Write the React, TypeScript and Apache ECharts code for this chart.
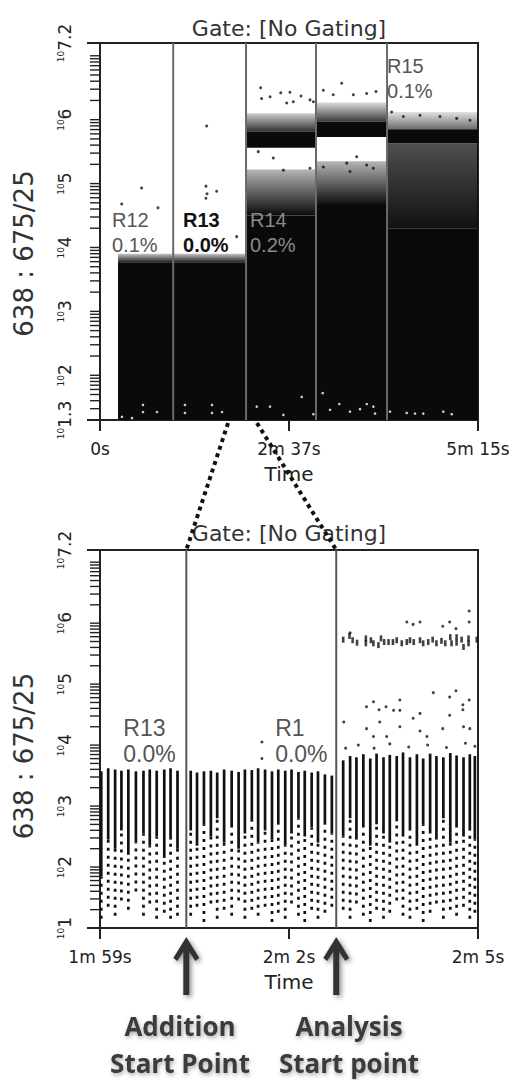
import React, { useEffect, useRef } from 'react';
import * as echarts from 'echarts';

// ---------------- axes ----------------
const topTimeTicks = [0, 157.5, 315];
const topTimeLabels = ['0s', '2m 37s', '5m 15s'];
const bottomTimeTicks = [119, 122, 125];
const bottomTimeLabels = ['1m 59s', '2m 2s', '2m 5s'];
const topLogRange = [1.3, 7.2];
const bottomLogRange = [1, 7.2];
const decades = [1, 2, 3, 4, 5, 6, 7];
const decadeFactors = [1, 2, 3, 4, 5, 6, 7, 8, 9];

// ---------------- top plot (0s – 5m 15s), values in log10 units ----------------
const topGates = [61, 121.7, 180, 239.2];
// [tStart, tEnd, low, high]
const topCoreBlocks = [
  [15, 121.7, 1.3, 3.77],
  [121.7, 180, 1.3, 4.5],
  [121.7, 180, 5.56, 5.81],
  [180, 239.2, 1.3, 4.65],
  [180, 239.2, 5.73, 5.97],
  [239.2, 315, 1.3, 4.3],
  [239.2, 315, 5.63, 5.85],
];
// [tStart, tEnd, low, high, densityLow, densityHigh]
const topFringeBlocks = [
  [15, 121.7, 3.77, 3.9, 0.9, 0.25],
  [121.7, 180, 4.5, 5.22, 1.0, 0.3],
  [121.7, 180, 5.81, 6.1, 0.85, 0.2],
  [180, 239.2, 4.65, 5.35, 1.0, 0.3],
  [180, 239.2, 5.97, 6.27, 0.8, 0.15],
  [239.2, 315, 4.3, 5.63, 0.97, 0.72],
  [239.2, 315, 5.85, 6.12, 0.6, 0.12],
];
const topOutliers = [
  [34.7, 4.93], [18.1, 4.68], [48.3, 4.62], [88.9, 5.9], [88.3, 4.96], [97.2, 4.88],
  [89.2, 4.84], [88.3, 4.77], [113.9, 4.17],
  [133.9, 6.5], [150.6, 6.42], [158.3, 6.43], [167.5, 6.37], [175, 6.31], [134.7, 6.33],
  [141.7, 6.36], [155.6, 6.26], [161.1, 6.28], [177.8, 6.28],
  [201.4, 6.57], [186.1, 6.46], [194.4, 6.39], [211.1, 6.39], [222.2, 6.41], [230, 6.44],
  [243, 6.12], [252.8, 6.05], [266.7, 6.07], [283.3, 6.05], [297.2, 6.02], [308.3, 5.99],
  [131.9, 5.5], [144.4, 5.4], [152.8, 5.21], [175, 5.24],
  [186.1, 5.26], [205.6, 5.32], [213.9, 5.42], [222.2, 5.29], [227.8, 5.24], [208.3, 5.19],
];
const topVoids = [
  [35.8, 1.535], [35.8, 1.425], [47.5, 1.425], [70.8, 1.535], [70.8, 1.41], [93.3, 1.535],
  [93.3, 1.41], [101.7, 1.425], [26.7, 1.33], [18.3, 1.35], [168.1, 1.66], [185.6, 1.72],
  [199.4, 1.55], [177.8, 1.39], [191.7, 1.46], [208.3, 1.43], [216.7, 1.47], [222.3, 1.55],
  [227.8, 1.51], [229.2, 1.4], [241.7, 1.43], [255.6, 1.41], [262.5, 1.4], [269.4, 1.4],
  [286.1, 1.43], [293.1, 1.39], [130.6, 1.51], [141.7, 1.51], [152.8, 1.38],
];
const topRegionNames = ['R12', 'R13', 'R14', 'R15'];
const topRegionPct = ['0.1%', '0.0%', '0.2%', '0.1%'];
const topRegionAnchors = [[10, 4.23], [69.2, 4.23], [125, 4.23], [239.2, 6.65]];
const topRegionColors = ['#555', '#111', '#8a8a8a', '#555'];
const topRegionWeights = ['normal', 'bold', 'normal', 'normal'];

// ---------------- bottom plot (1m 59s – 2m 5s) ----------------
const bottomGates = [120.37, 122.75];
const zoomWindow = [106.7, 130.8];
// [t, lowest dot, solid low, top]
const bottomColumns = [
  [119.02, 1.15, 1.85, 3.57], [119.13, 1.35, 2.45, 3.62], [119.24, 1.2, 2.3, 3.6],
  [119.34, 1.45, 2.6, 3.58], [119.45, 1.3, 2.2, 3.6], [119.57, 1.6, 2.4, 3.57],
  [119.69, 1.2, 2.55, 3.58], [119.79, 1.4, 2.35, 3.6], [119.9, 1.15, 2.5, 3.58],
  [120.02, 1.25, 2.15, 3.6], [120.12, 1.15, 2.45, 3.62], [120.23, 1.2, 2.3, 3.58],
  [120.44, 1.2, 2.6, 3.58], [120.54, 1.35, 2.35, 3.55], [120.65, 1.1, 2.7, 3.57],
  [120.76, 1.4, 2.5, 3.58], [120.86, 1.15, 2.8, 3.55], [120.97, 1.3, 2.4, 3.6],
  [121.09, 1.2, 2.65, 3.58], [121.2, 1.45, 2.3, 3.56], [121.3, 1.15, 2.55, 3.6],
  [121.41, 1.3, 2.75, 3.59], [121.51, 1.2, 2.4, 3.62], [121.62, 1.35, 2.6, 3.6],
  [121.73, 1.1, 2.45, 3.57], [121.83, 1.25, 2.7, 3.6], [121.94, 1.15, 2.35, 3.58],
  [122.04, 1.4, 2.55, 3.6], [122.15, 1.2, 2.8, 3.56], [122.25, 1.1, 2.5, 3.58],
  [122.36, 1.3, 2.65, 3.55], [122.46, 1.15, 2.4, 3.57], [122.57, 1.25, 2.7, 3.52],
  [122.68, 1.35, 2.55, 3.5],
  [122.86, 1.3, 2.5, 3.75], [122.97, 1.15, 2.8, 3.82], [123.07, 1.4, 2.45, 3.8],
  [123.18, 1.2, 2.65, 3.85], [123.29, 1.1, 2.35, 3.78], [123.39, 1.3, 2.7, 3.86],
  [123.5, 1.15, 2.55, 3.8], [123.6, 1.25, 2.4, 3.84], [123.71, 1.45, 2.75, 3.82],
  [123.81, 1.2, 2.5, 3.88], [123.92, 1.15, 2.6, 3.8], [124.03, 1.3, 2.35, 3.85],
  [124.13, 1.1, 2.7, 3.78], [124.24, 1.25, 2.55, 3.86], [124.34, 1.4, 2.45, 3.82],
  [124.45, 1.15, 2.8, 3.8], [124.56, 1.3, 2.4, 3.87], [124.66, 1.2, 2.65, 3.83],
  [124.77, 1.35, 2.5, 3.8], [124.87, 1.15, 2.6, 3.85], [124.95, 1.25, 2.45, 3.82],
];
const bottomBand = [
  [122.86, 5.73], [122.96, 5.79], [123.01, 5.72], [123.08, 5.68], [123.22, 5.75],
  [123.22, 5.67], [123.3, 5.72], [123.34, 5.67], [123.42, 5.64], [123.46, 5.75],
  [123.51, 5.69], [123.58, 5.69], [123.65, 5.69], [123.71, 5.72], [123.79, 5.67],
  [123.87, 5.69], [123.92, 5.72], [123.98, 5.69], [124.08, 5.72], [124.13, 5.67],
  [124.21, 5.69], [124.28, 5.73], [124.34, 5.67], [124.42, 5.71], [124.48, 5.67],
  [124.56, 5.77], [124.58, 5.67], [124.66, 5.77], [124.66, 5.68], [124.74, 5.73],
  [124.77, 5.61], [124.85, 5.75], [124.85, 5.67], [124.98, 5.73],
];
const bottomScatter = [
  [123.87, 6.02], [123.97, 5.98], [124.08, 6.02], [124.44, 5.95], [124.55, 6.02],
  [124.65, 5.91], [124.86, 6.2], [124.86, 6.02], [122.97, 5.84],
  [122.87, 4.38], [123.23, 4.63], [123.34, 4.71], [123.43, 4.58], [123.54, 4.63],
  [123.66, 4.57], [123.76, 4.74], [123.76, 4.57], [123.23, 4.27], [123.44, 4.38],
  [123.97, 4.44], [124.08, 4.52], [124.29, 4.86], [124.55, 4.79], [124.65, 4.89],
  [124.55, 4.49], [124.76, 4.66], [124.76, 4.58], [124.86, 4.74], [124.44, 4.27],
  [124.77, 4.3], [124.87, 4.27], [123.76, 4.3], [123.34, 4.14], [123.55, 4.14],
  [124.08, 4.23], [124.19, 4.14],
  [122.9, 3.95], [123.1, 4.0], [123.35, 3.95], [123.6, 4.02], [123.9, 3.97],
  [124.2, 4.0], [124.5, 3.96], [124.8, 4.03], [124.95, 3.98],
  [121.57, 4.05], [121.57, 3.78],
];
const bottomRegionNames = ['R13', 'R1'];
const bottomRegionPct = ['0.0%', '0.0%'];
const bottomRegionAnchors = [[119.37, 4.06], [121.78, 4.06]];

const yAxisTitle = '638 : 675/25';
const gateTitle = 'Gate: [No Gating]';
const annotations = [
  ['Addition', 'Start Point'],
  ['Analysis', 'Start point'],
];

// ---------------- helpers ----------------
const FONT = '"DejaVu Sans", sans-serif';
const ARIAL = '"Liberation Sans", Arial, sans-serif';

const logTicks = (range: number[]) => {
  const out: number[] = [];
  decades.forEach((d) => {
    decadeFactors.forEach((k) => {
      const v = Math.log10(k) + d;
      if (v >= range[0] - 1e-9 && v <= range[1] + 1e-9) out.push(v);
    });
  });
  out.push(range[0], range[1]);
  return out;
};

const expLabel = (v: number) => {
  if (Math.abs(v - 7) < 1e-9) return '';
  const s = Math.abs(v - Math.round(v)) < 1e-9 ? String(Math.round(v)) : v.toFixed(1);
  return `{b|10}{e|${s}}`;
};

const timeLabel = (ticks: number[], labels: string[]) => (v: number) => {
  const i = ticks.findIndex((t) => Math.abs(t - v) < 1e-6);
  return i >= 0 ? labels[i] : '';
};

const timeAxis = (gridIndex: number, ticks: number[], labels: string[]) => ({
  type: 'value',
  gridIndex,
  min: ticks[0],
  max: ticks[2],
  interval: ticks[1] - ticks[0],
  name: 'Time',
  nameLocation: 'middle',
  nameGap: 44,
  nameTextStyle: { fontFamily: FONT, fontSize: 20, color: '#222' },
  axisLine: { show: true, onZero: false, lineStyle: { color: '#222', width: 2 } },
  axisTick: { show: true, inside: false, length: 11, lineStyle: { color: '#222', width: 2 } },
  axisLabel: {
    margin: 20,
    fontFamily: FONT,
    fontSize: 17,
    color: '#222',
    formatter: timeLabel(ticks, labels),
    showMinLabel: true,
    showMaxLabel: true,
  },
  splitLine: { show: false },
});

const logAxis = (gridIndex: number, range: number[]) => ({
  type: 'value',
  gridIndex,
  min: range[0],
  max: range[1],
  axisLine: { show: true, onZero: false, lineStyle: { color: '#222', width: 2 } },
  axisTick: { show: false },
  splitLine: { show: false },
  axisLabel: {
    rotate: 90,
    margin: 27,
    color: '#222',
    fontFamily: FONT,
    formatter: expLabel,
    showMinLabel: true,
    showMaxLabel: true,
    rich: {
      b: { fontSize: 9, fontFamily: FONT, color: '#222', verticalAlign: 'top' },
      e: { fontSize: 17, fontFamily: FONT, color: '#222' },
    },
  },
});

const blockSeries = {
  type: 'custom',
  xAxisIndex: 0,
  yAxisIndex: 0,
  clip: false,
  z: 2,
  silent: true,
  data: topCoreBlocks,
  renderItem: (_p: any, api: any) => {
    const a = api.coord([api.value(0), api.value(3)]);
    const b = api.coord([api.value(1), api.value(2)]);
    return {
      type: 'rect',
      shape: { x: a[0], y: a[1], width: b[0] - a[0], height: b[1] - a[1] },
      style: { fill: '#0a0a0a' },
    };
  },
};

const fringeSeries = {
  type: 'custom',
  xAxisIndex: 0,
  yAxisIndex: 0,
  clip: false,
  z: 2,
  silent: true,
  data: topFringeBlocks,
  renderItem: (_p: any, api: any) => {
    const a = api.coord([api.value(0), api.value(3)]);
    const b = api.coord([api.value(1), api.value(2)]);
    return {
      type: 'rect',
      shape: { x: a[0], y: a[1], width: b[0] - a[0], height: b[1] - a[1] },
      style: {
        fill: new echarts.graphic.LinearGradient(0, 1, 0, 0, [
          { offset: 0, color: `rgba(10,10,10,${api.value(4)})` },
          { offset: 1, color: `rgba(10,10,10,${api.value(5)})` },
        ]),
      },
    };
  },
};

const tickSeries = (idx: number, xMin: number, range: number[]) => ({
  type: 'custom',
  xAxisIndex: idx,
  yAxisIndex: idx,
  clip: false,
  silent: true,
  z: 5,
  data: logTicks(range).map((v) => [xMin, v]),
  renderItem: (_p: any, api: any) => {
    const v = api.value(1);
    const p = api.coord([api.value(0), v]);
    const isEnd = Math.abs(v - range[0]) < 1e-9 || Math.abs(v - range[1]) < 1e-9;
    const len = isEnd ? 13 : 10;
    return {
      type: 'line',
      shape: { x1: p[0] - len, y1: p[1], x2: p[0], y2: p[1] },
      style: { stroke: '#222', lineWidth: isEnd ? 2 : 1.4 },
    };
  },
});

const gateSeries = (idx: number, gates: number[], range: number[], color: string) => ({
  type: 'custom',
  xAxisIndex: idx,
  yAxisIndex: idx,
  clip: false,
  silent: true,
  z: 6,
  data: gates.map((t) => [t, range[0], range[1]]),
  renderItem: (_p: any, api: any) => {
    const a = api.coord([api.value(0), api.value(2)]);
    const b = api.coord([api.value(0), api.value(1)]);
    return {
      type: 'line',
      shape: { x1: a[0], y1: a[1], x2: b[0], y2: b[1] },
      style: { stroke: color, lineWidth: 2 },
    };
  },
});

const labelSeries = (
  idx: number,
  anchors: number[][],
  names: string[],
  pcts: string[],
  colors: string[],
  weights: string[],
  size: number,
  lh: number
) => ({
  type: 'custom',
  xAxisIndex: idx,
  yAxisIndex: idx,
  clip: false,
  silent: true,
  z: 8,
  data: anchors.map((a, i) => [a[0], a[1], i]),
  renderItem: (_p: any, api: any) => {
    const i = api.value(2);
    const p = api.coord([api.value(0), api.value(1)]);
    return {
      type: 'text',
      x: p[0],
      y: p[1],
      style: {
        text: names[i] + '\n' + pcts[i],
        fill: colors[i],
        font: `${weights[i]} ${size}px ${ARIAL}`,
        lineHeight: lh,
        align: 'left',
        verticalAlign: 'middle',
        textAlign: 'left',
        textVerticalAlign: 'middle',
      },
    };
  },
});

const columnSeries = {
  type: 'custom',
  xAxisIndex: 1,
  yAxisIndex: 1,
  clip: false,
  silent: true,
  z: 3,
  data: bottomColumns,
  renderItem: (_p: any, api: any) => {
    const t = api.value(0);
    const a = api.coord([t, api.value(1)]);
    const b = api.coord([t, api.value(2)]);
    const c = api.coord([t, api.value(3)]);
    return {
      type: 'group',
      children: [
        {
          type: 'line',
          shape: { x1: b[0], y1: b[1], x2: c[0], y2: c[1] },
          style: { stroke: '#111', lineWidth: 2.7 },
        },
        {
          type: 'line',
          shape: { x1: a[0], y1: a[1], x2: b[0], y2: b[1] },
          style: { stroke: '#111', lineWidth: 2.7, lineDash: [3, 5] },
        },
      ],
    };
  },
};

function buildOption() {
  return {
    animation: false,
    backgroundColor: '#fff',
    grid: [
      { left: 100, top: 43, width: 378, height: 377, show: true, borderColor: '#222', borderWidth: 2, backgroundColor: '#fff', outerBoundsMode: 'none' },
      { left: 100, top: 550, width: 378, height: 378, show: true, borderColor: '#222', borderWidth: 2, backgroundColor: '#fff', outerBoundsMode: 'none' },
    ],
    xAxis: [timeAxis(0, topTimeTicks, topTimeLabels), timeAxis(1, bottomTimeTicks, bottomTimeLabels)],
    yAxis: [logAxis(0, topLogRange), logAxis(1, bottomLogRange)],
    series: [
      blockSeries,
      fringeSeries,
      {
        type: 'scatter',
        xAxisIndex: 0,
        yAxisIndex: 0,
        symbol: 'circle',
        symbolSize: 3,
        itemStyle: { color: '#111' },
        silent: true,
        z: 3,
        data: topOutliers,
      },
      {
        type: 'scatter',
        xAxisIndex: 0,
        yAxisIndex: 0,
        symbol: 'circle',
        symbolSize: 2.6,
        itemStyle: { color: '#fff' },
        silent: true,
        z: 4,
        data: topVoids,
      },
      gateSeries(0, topGates, topLogRange, '#6a6a6a'),
      labelSeries(0, topRegionAnchors, topRegionNames, topRegionPct, topRegionColors, topRegionWeights, 20, 25),
      tickSeries(0, topTimeTicks[0], topLogRange),
      columnSeries,
      {
        type: 'scatter',
        xAxisIndex: 1,
        yAxisIndex: 1,
        symbol: 'rect',
        symbolSize: [2.6, 6],
        itemStyle: { color: '#111' },
        silent: true,
        z: 3,
        data: bottomBand,
      },
      {
        type: 'scatter',
        xAxisIndex: 1,
        yAxisIndex: 1,
        symbol: 'circle',
        symbolSize: 3,
        itemStyle: { color: '#111' },
        silent: true,
        z: 3,
        data: bottomScatter,
      },
      gateSeries(1, bottomGates, bottomLogRange, '#555'),
      labelSeries(1, bottomRegionAnchors, bottomRegionNames, bottomRegionPct, ['#555', '#555'], ['normal', 'normal'], 23, 26),
      tickSeries(1, bottomTimeTicks[0], bottomLogRange),
    ],
  };
}

function buildGraphic(chart: any) {
  const topPx = (p: number[]) => chart.convertToPixel({ xAxisIndex: 0, yAxisIndex: 0 }, p);
  const botPx = (p: number[]) => chart.convertToPixel({ xAxisIndex: 1, yAxisIndex: 1 }, p);
  const els: any[] = [];

  // titles
  const tTop = topPx([topTimeTicks[1], topLogRange[1]]);
  const tBot = botPx([bottomTimeTicks[1], bottomLogRange[1]]);
  [[tTop, 15], [tBot, 17]].forEach(([p, off]: any) => {
    els.push({
      type: 'text',
      x: p[0],
      y: p[1] - off,
      z: 20,
      style: { text: gateTitle, fill: '#333', font: `22px ${FONT}`, textAlign: 'center', textVerticalAlign: 'middle' },
    });
  });

  // y axis names
  const mTop = topPx([topTimeTicks[0], (topLogRange[0] + topLogRange[1]) / 2]);
  const mBot = botPx([bottomTimeTicks[0], (bottomLogRange[0] + bottomLogRange[1]) / 2]);
  [[mTop, 22], [mBot, 17]].forEach(([p, off]: any) => {
    els.push({
      type: 'text',
      x: 24,
      y: p[1] + off,
      rotation: Math.PI / 2,
      z: 20,
      style: { text: yAxisTitle, fill: '#333', font: `26px ${FONT}`, textAlign: 'center', textVerticalAlign: 'middle' },
    });
  });

  // dotted connectors
  const a1 = topPx([zoomWindow[0], topLogRange[0]]);
  const a2 = topPx([zoomWindow[1], topLogRange[0]]);
  const b1 = botPx([bottomGates[0], bottomLogRange[1]]);
  const b2 = botPx([bottomGates[1], bottomLogRange[1]]);
  [[a1, b1], [a2, b2]].forEach(([s, e]: any) => {
    els.push({
      type: 'line',
      z: 30,
      shape: { x1: s[0], y1: s[1] + 3, x2: e[0], y2: e[1] },
      style: { stroke: '#111', lineWidth: 4, lineDash: [4, 4] },
    });
  });

  // arrows
  bottomGates.forEach((g) => {
    const p = botPx([g, bottomLogRange[0]]);
    const x = p[0];
    const y = p[1] + 9;
    els.push({
      type: 'polygon',
      z: 20,
      shape: {
        points: [
          [x, y], [x + 13, y + 21], [x + 9, y + 24], [x + 3, y + 15], [x + 3, y + 58],
          [x - 3, y + 58], [x - 3, y + 15], [x - 9, y + 24], [x - 13, y + 21],
        ],
      },
      style: { fill: '#333', shadowBlur: 5, shadowColor: 'rgba(0,0,0,0.45)', shadowOffsetX: 2, shadowOffsetY: 2 },
    });
  });

  // annotation text
  const centers = [180, 349];
  annotations.forEach((lines, i) => {
    lines.forEach((txt, j) => {
      els.push({
        type: 'text',
        x: centers[i],
        y: 1026 + j * 37,
        z: 20,
        style: {
          text: txt,
          fill: '#3a3a3a',
          font: `bold 26px "Open Sans", sans-serif`,
          textAlign: 'center',
          textVerticalAlign: 'middle',
          textShadowBlur: 4,
          textShadowColor: 'rgba(0,0,0,0.35)',
          textShadowOffsetX: 1,
          textShadowOffsetY: 2,
        },
      });
    });
  });
  return els;
}

export default function App() {
  const ref = useRef<HTMLDivElement>(null);
  useEffect(() => {
    document.body.style.margin = '0';
    const chart = echarts.init(ref.current as HTMLDivElement, null, { renderer: 'svg' });
    chart.setOption(buildOption() as any);
    chart.setOption({ graphic: buildGraphic(chart) } as any);
    return () => chart.dispose();
  }, []);
  return <div ref={ref} style={{ width: 513, height: 1080 }} />;
}
